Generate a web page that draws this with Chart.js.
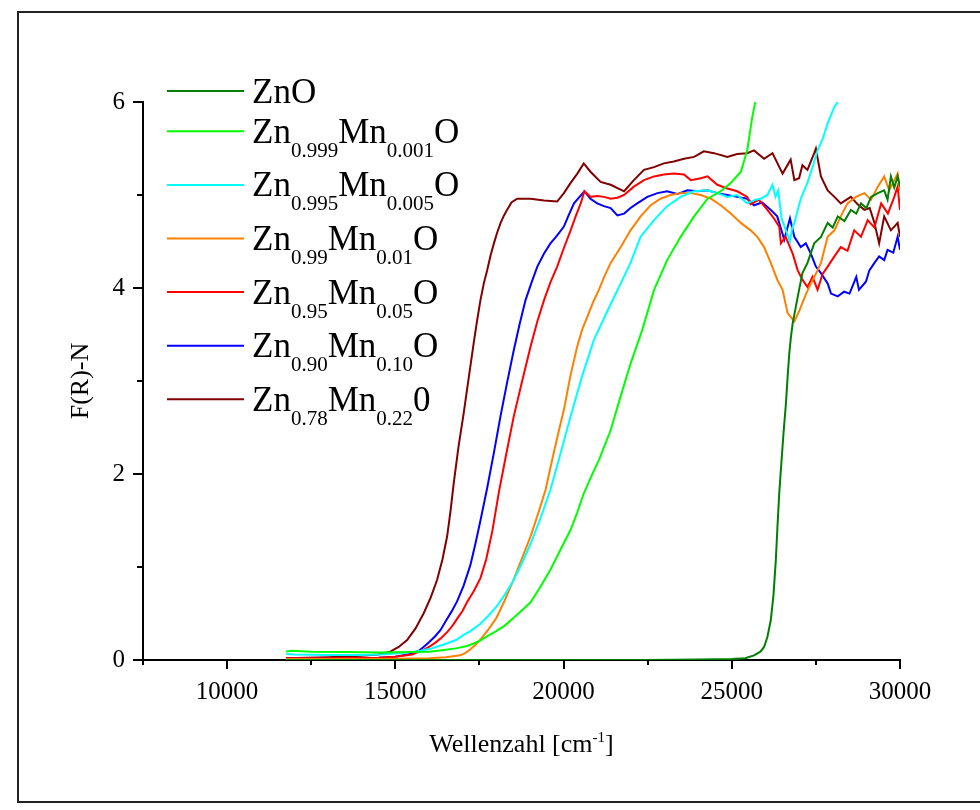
<!DOCTYPE html>
<html>
<head>
<meta charset="utf-8">
<title>F(R)-N</title>
<script src="https://cdn.jsdelivr.net/npm/chart.js@4.4.1/dist/chart.umd.min.js"></script>
<style>
  body { margin: 0; background: #fff; }
  #wrap { width: 980px; height: 810px; }
</style>
</head>
<body>
<div id="wrap"><canvas id="spectra-chart" width="980" height="810"></canvas></div>
<script>
// Wellenzahl in cm-1 and F(R) per sample
const znoX = [11750, 13000, 15000, 17500, 20000, 22500, 24000, 25000, 25400, 25660, 25850, 25960, 26060, 26160, 26240, 26310, 26360, 26410, 26470, 26540, 26610, 26660, 26710, 26760, 26810, 26905, 27000, 27100, 27250, 27450, 27650, 27850, 28000, 28150, 28350, 28540, 28700, 28840, 29000, 29140, 29340, 29530, 29630, 29730, 29830, 29930, 30000]
const znoY = [0.0, 0.0, 0.0, 0.0, 0.0, 0.0, 0.005, 0.01, 0.02, 0.05, 0.09, 0.14, 0.25, 0.43, 0.70, 1.08, 1.45, 1.79, 2.10, 2.45, 2.76, 3.05, 3.30, 3.48, 3.62, 3.80, 3.98, 4.16, 4.27, 4.48, 4.55, 4.70, 4.65, 4.77, 4.72, 4.84, 4.80, 4.91, 4.86, 4.98, 5.02, 5.05, 4.95, 5.20, 5.08, 5.20, 5.09]

const mn001X = [11750, 11900, 12500, 13500, 14500, 15500, 16000, 16500, 16800, 17130, 17350, 17530, 17750, 18000, 18250, 18500, 18750, 19020, 19300, 19610, 19900, 20210, 20400, 20600, 20830, 21050, 21400, 21700, 21995, 22340, 22690, 23080, 23480, 23880, 24280, 24670, 24970, 25270, 25460, 25610, 25700]
const mn001Y = [0.09, 0.10, 0.09, 0.085, 0.08, 0.085, 0.09, 0.11, 0.125, 0.15, 0.18, 0.21, 0.26, 0.31, 0.37, 0.45, 0.53, 0.62, 0.78, 0.97, 1.18, 1.40, 1.58, 1.79, 1.98, 2.15, 2.47, 2.84, 3.19, 3.55, 3.98, 4.30, 4.55, 4.77, 4.96, 5.04, 5.13, 5.25, 5.48, 5.84, 6.0]

const mn005X = [11750, 12000, 13000, 14000, 14550, 15000, 15500, 15750, 16040, 16300, 16550, 16835, 17030, 17230, 17530, 17750, 18000, 18250, 18500, 18750, 19020, 19310, 19610, 19910, 20210, 20550, 20900, 21300, 21500, 21700, 21990, 22290, 22690, 23080, 23480, 23880, 24280, 24570, 24870, 25160, 25460, 25700, 25860, 26060, 26210, 26300, 26380, 26480, 26610, 26730, 26800, 26860, 27050, 27250, 27400, 27550, 27700, 27850, 28050, 28150]
const mn005Y = [0.065, 0.06, 0.055, 0.055, 0.06, 0.07, 0.085, 0.10, 0.12, 0.15, 0.18, 0.22, 0.27, 0.31, 0.39, 0.47, 0.57, 0.70, 0.85, 1.03, 1.25, 1.52, 1.83, 2.22, 2.62, 3.05, 3.44, 3.75, 3.90, 4.05, 4.27, 4.55, 4.73, 4.88, 4.98, 5.04, 5.05, 5.02, 4.98, 5.0, 4.91, 4.95, 4.96, 5.0, 5.11, 4.98, 5.05, 4.75, 4.62, 4.50, 4.65, 4.70, 4.96, 5.13, 5.30, 5.48, 5.60, 5.77, 5.95, 6.0]

const mn01X = [11750, 13000, 14500, 15500, 16000, 16500, 16935, 17100, 17250, 17400, 17530, 17750, 18000, 18250, 18500, 18750, 19020, 19250, 19465, 19660, 19850, 20010, 20200, 20405, 20550, 20705, 20880, 21050, 21220, 21400, 21700, 21990, 22290, 22590, 22880, 23180, 23480, 23780, 24080, 24380, 24670, 24970, 25270, 25560, 25760, 25960, 26160, 26350, 26510, 26660, 26860, 27000, 27210, 27410, 27550, 27650, 27850, 28050, 28240, 28440, 28690, 28940, 29140, 29340, 29530, 29680, 29830, 29930, 30000]
const mn01Y = [0.01, 0.01, 0.01, 0.015, 0.02, 0.03, 0.05, 0.08, 0.12, 0.17, 0.22, 0.32, 0.45, 0.64, 0.85, 1.08, 1.33, 1.58, 1.83, 2.15, 2.45, 2.69, 3.05, 3.37, 3.55, 3.69, 3.85, 3.98, 4.13, 4.27, 4.44, 4.62, 4.77, 4.89, 4.96, 5.0, 5.02, 5.02, 5.0, 4.96, 4.89, 4.80, 4.70, 4.62, 4.55, 4.44, 4.27, 4.09, 3.98, 3.73, 3.64, 3.75, 3.94, 4.09, 4.19, 4.27, 4.55, 4.62, 4.77, 4.91, 4.98, 5.02, 4.95, 5.09, 5.20, 5.05, 5.16, 5.23, 5.05]

const mn05X = [11750, 13000, 14500, 15000, 15500, 15700, 15840, 16000, 16200, 16370, 16540, 16700, 16850, 17000, 17130, 17330, 17530, 17700, 17880, 18075, 18300, 18520, 18770, 19020, 19220, 19420, 19610, 19810, 20010, 20210, 20360, 20510, 20620, 20800, 21000, 21200, 21400, 21600, 21800, 22090, 22390, 22690, 22980, 23280, 23580, 23780, 24080, 24280, 24570, 24870, 25160, 25460, 25560, 25800, 26060, 26250, 26410, 26460, 26600, 26810, 26960, 27100, 27250, 27400, 27550, 27700, 27850, 28050, 28240, 28440, 28640, 28840, 29040, 29240, 29440, 29640, 29830, 29930, 30000]
const mn05Y = [0.02, 0.02, 0.025, 0.035, 0.06, 0.09, 0.11, 0.14, 0.19, 0.24, 0.30, 0.37, 0.45, 0.53, 0.62, 0.74, 0.88, 1.08, 1.38, 1.80, 2.22, 2.62, 3.00, 3.37, 3.64, 3.87, 4.06, 4.23, 4.43, 4.62, 4.77, 4.91, 5.04, 4.98, 4.99, 4.98, 4.96, 4.97, 5.0, 5.09, 5.16, 5.20, 5.22, 5.23, 5.22, 5.16, 5.18, 5.20, 5.11, 5.07, 5.04, 4.98, 4.90, 4.95, 4.84, 4.75, 4.66, 4.48, 4.55, 4.37, 4.19, 4.09, 4.01, 4.12, 3.98, 4.15, 4.23, 4.34, 4.44, 4.40, 4.62, 4.55, 4.73, 4.65, 4.91, 4.80, 4.98, 5.09, 4.84]

const mn10X = [11750, 13000, 14500, 15000, 15250, 15500, 15700, 15840, 16000, 16170, 16340, 16500, 16670, 16835, 17030, 17230, 17380, 17530, 17730, 17930, 18125, 18320, 18520, 18700, 18870, 19050, 19220, 19420, 19610, 19800, 20010, 20150, 20310, 20450, 20620, 20800, 21000, 21200, 21400, 21600, 21800, 21990, 22190, 22490, 22790, 23080, 23380, 23680, 23980, 24280, 24570, 24870, 25160, 25460, 25660, 25900, 26160, 26350, 26560, 26730, 26860, 27050, 27200, 27350, 27500, 27650, 27850, 27950, 28150, 28340, 28500, 28700, 28780, 28990, 29090, 29240, 29380, 29530, 29630, 29800, 29930, 30000]
const mn10Y = [0.02, 0.02, 0.025, 0.035, 0.05, 0.07, 0.10, 0.14, 0.19, 0.25, 0.32, 0.42, 0.52, 0.63, 0.80, 1.02, 1.25, 1.50, 1.85, 2.23, 2.62, 2.98, 3.33, 3.62, 3.87, 4.06, 4.23, 4.37, 4.48, 4.56, 4.66, 4.78, 4.91, 4.97, 5.04, 4.96, 4.91, 4.88, 4.86, 4.78, 4.80, 4.86, 4.91, 4.98, 5.02, 5.04, 5.01, 5.05, 5.04, 5.05, 5.02, 5.0, 4.98, 4.96, 4.89, 4.92, 4.84, 4.77, 4.52, 4.75, 4.55, 4.44, 4.48, 4.37, 4.23, 4.16, 4.05, 3.94, 3.91, 3.96, 3.94, 4.12, 3.98, 4.07, 4.19, 4.27, 4.34, 4.30, 4.41, 4.38, 4.55, 4.41]

const mn22X = [11750, 13000, 14000, 14500, 14850, 15100, 15350, 15600, 15840, 16050, 16240, 16400, 16540, 16640, 16735, 16880, 17030, 17180, 17330, 17430, 17530, 17630, 17730, 17830, 17930, 18030, 18130, 18230, 18320, 18450, 18620, 19020, 19420, 19810, 20010, 20210, 20410, 20600, 20800, 21100, 21400, 21800, 22090, 22390, 22690, 22980, 23280, 23580, 23880, 24170, 24470, 24870, 25160, 25460, 25660, 25960, 26210, 26510, 26750, 26860, 27000, 27100, 27250, 27450, 27500, 27650, 27850, 28050, 28240, 28540, 28740, 28940, 29100, 29240, 29380, 29530, 29730, 29930, 30000]
const mn22Y = [0.02, 0.03, 0.045, 0.06, 0.09, 0.14, 0.215, 0.34, 0.50, 0.67, 0.86, 1.08, 1.33, 1.60, 1.90, 2.30, 2.65, 3.03, 3.41, 3.65, 3.87, 4.05, 4.19, 4.35, 4.48, 4.60, 4.70, 4.78, 4.84, 4.92, 4.96, 4.96, 4.94, 4.93, 5.02, 5.13, 5.23, 5.34, 5.25, 5.14, 5.11, 5.04, 5.16, 5.27, 5.30, 5.34, 5.36, 5.39, 5.41, 5.47, 5.45, 5.41, 5.44, 5.45, 5.48, 5.39, 5.45, 5.23, 5.38, 5.16, 5.18, 5.32, 5.27, 5.45, 5.50, 5.20, 5.05, 4.98, 4.91, 4.98, 4.90, 4.84, 4.86, 4.70, 4.48, 4.77, 4.62, 4.70, 4.55]

// legend text as [main, subscript] pieces
const legendParts = [
  [["ZnO", ""]],
  [["Zn", "0.999"], ["Mn", "0.001"], ["O", ""]],
  [["Zn", "0.995"], ["Mn", "0.005"], ["O", ""]],
  [["Zn", "0.99"], ["Mn", "0.01"], ["O", ""]],
  [["Zn", "0.95"], ["Mn", "0.05"], ["O", ""]],
  [["Zn", "0.90"], ["Mn", "0.10"], ["O", ""]],
  [["Zn", "0.78"], ["Mn", "0.22"], ["0", ""]],
]
const lineColors = ["#008000", "#00ff00", "#00ffff", "#ff8000", "#ff0000", "#0000ff", "#800000"]

const xTickLabels = [10000, 15000, 20000, 25000, 30000]
const yTickLabels = [0, 2, 4, 6]

const serif = "'Liberation Serif', 'Times New Roman', serif"

function toPoints(xs, ys) {
  return xs.map(function (x, i) {
    return { x: x, y: ys[i] }
  })
}

// axis lines with long/short tick marks, drawn under the curves
const axesPlugin = {
  id: "axes",
  beforeDatasetsDraw(chart) {
    let ctx = chart.ctx
    let area = chart.chartArea
    let xs = chart.scales.x
    let ys = chart.scales.y
    ctx.save()
    ctx.strokeStyle = "#000"
    ctx.lineWidth = 2
    ctx.beginPath()
    ctx.moveTo(area.left, area.bottom)
    ctx.lineTo(area.right + 1, area.bottom)
    ctx.moveTo(area.left, area.top - 1)
    ctx.lineTo(area.left, area.bottom)
    xs.ticks.forEach(function (t) {
      let px = Math.round(xs.getPixelForValue(t.value))
      let len = xTickLabels.includes(t.value) ? 9 : 5
      ctx.moveTo(px, area.bottom)
      ctx.lineTo(px, area.bottom + len)
    })
    ys.ticks.forEach(function (t) {
      let py = Math.round(ys.getPixelForValue(t.value))
      let len = yTickLabels.includes(t.value) ? 10 : 6
      ctx.moveTo(area.left, py)
      ctx.lineTo(area.left - len, py)
    })
    ctx.stroke()
    ctx.restore()
  },
}

// frame, axis titles and the legend with subscripts
const decorPlugin = {
  id: "decor",
  afterDraw(chart) {
    let ctx = chart.ctx
    let area = chart.chartArea
    ctx.save()
    ctx.strokeStyle = "#222"
    ctx.lineWidth = 2
    ctx.strokeRect(18, 12, 990, 790)

    ctx.fillStyle = "#000"
    ctx.textBaseline = "alphabetic"

    // x title with superscript
    let mainFont = "26px " + serif
    let supFont = "15px " + serif
    ctx.font = mainFont
    let t1 = "Wellenzahl [cm"
    let w1 = ctx.measureText(t1).width
    let w3 = ctx.measureText("]").width
    ctx.font = supFont
    let w2 = ctx.measureText("-1").width
    let cx = (area.left + area.right) / 2
    let x0 = cx - (w1 + w2 + w3) / 2
    let base = 752
    ctx.font = mainFont
    ctx.fillText(t1, x0, base)
    ctx.font = supFont
    ctx.fillText("-1", x0 + w1, base - 10)
    ctx.font = mainFont
    ctx.fillText("]", x0 + w1 + w2, base)

    // y title
    ctx.save()
    ctx.translate(88, (area.top + area.bottom) / 2)
    ctx.rotate(-Math.PI / 2)
    ctx.textAlign = "center"
    ctx.fillText("F(R)-N", 0, 0)
    ctx.restore()

    // legend
    let y = 91
    chart.data.datasets.forEach(function (ds, i) {
      let parts = legendParts[i]
      ctx.strokeStyle = ds.borderColor
      ctx.lineWidth = 2
      ctx.beginPath()
      ctx.moveTo(167, y)
      ctx.lineTo(244, y)
      ctx.stroke()
      let tx = 252
      let hasSub = false
      parts.forEach(function (p) {
        ctx.font = "35px " + serif
        ctx.fillText(p[0], tx, y + 11.5)
        tx += ctx.measureText(p[0]).width
        if (p[1]) {
          hasSub = true
          ctx.font = "21px " + serif
          ctx.fillText(p[1], tx, y + 25.5)
          tx += ctx.measureText(p[1]).width
        }
      })
      y += hasSub ? 53.6 : 40.3
    })
    ctx.restore()
  },
}

function makeDataset(label, xs, ys, color) {
  return {
    label: label,
    data: toPoints(xs, ys),
    borderColor: color,
    backgroundColor: color,
    borderWidth: 2,
    pointRadius: 0,
    tension: 0,
    fill: false,
  }
}

let ctxSpectra = document.getElementById("spectra-chart").getContext("2d")
let spectraChart = new Chart(ctxSpectra, {
  type: "line",
  data: {
    datasets: [
      makeDataset("ZnO", znoX, znoY, lineColors[0]),
      makeDataset("Zn0.999Mn0.001O", mn001X, mn001Y, lineColors[1]),
      makeDataset("Zn0.995Mn0.005O", mn005X, mn005Y, lineColors[2]),
      makeDataset("Zn0.99Mn0.01O", mn01X, mn01Y, lineColors[3]),
      makeDataset("Zn0.95Mn0.05O", mn05X, mn05Y, lineColors[4]),
      makeDataset("Zn0.90Mn0.10O", mn10X, mn10Y, lineColors[5]),
      makeDataset("Zn0.78Mn0.220", mn22X, mn22Y, lineColors[6]),
    ],
  },
  options: {
    responsive: false,
    animation: false,
    layout: { padding: { left: 0, right: 80, top: 102, bottom: 0 } },
    plugins: {
      legend: { display: false },
      tooltip: { enabled: false },
    },
    scales: {
      x: {
        type: "linear",
        min: 7500,
        max: 30000,
        afterFit: function (scale) {
          scale.height = 150
        },
        grid: { display: false, drawTicks: false },
        border: { display: false },
        ticks: {
          stepSize: 2500,
          autoSkip: false,
          maxRotation: 0,
          padding: 17,
          color: "#000",
          font: { family: serif, size: 25 },
          callback: function (value) {
            return xTickLabels.includes(value) ? String(value) : ""
          },
        },
      },
      y: {
        min: 0,
        max: 6,
        afterFit: function (scale) {
          scale.width = 143
        },
        grid: { display: false, drawTicks: false },
        border: { display: false },
        ticks: {
          stepSize: 1,
          padding: 18,
          color: "#000",
          font: { family: serif, size: 25 },
          callback: function (value) {
            return yTickLabels.includes(value) ? String(value) : ""
          },
        },
      },
    },
  },
  plugins: [axesPlugin, decorPlugin],
})
</script>
</body>
</html>
